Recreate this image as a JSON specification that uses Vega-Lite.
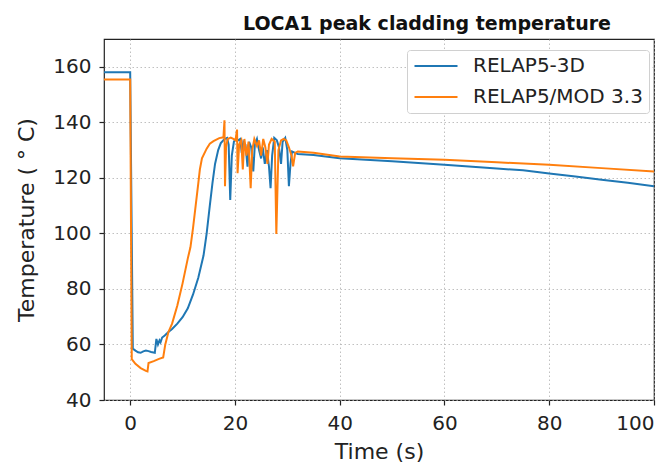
{
  "$schema": "https://vega.github.io/schema/vega-lite/v6.json",
  "width": 550,
  "height": 361,
  "autosize": "none",
  "padding": {"left": 104, "top": 39, "right": 18, "bottom": 65},
  "title": {"text": "LOCA1 peak cladding temperature", "fontSize": 19, "fontWeight": "bold", "font": "DejaVu Sans", "color": "#111", "anchor": "middle", "dx": 48, "offset": 5},
  "config": {
    "view": {"stroke": "#222", "strokeWidth": 1.2},
    "font": "DejaVu Sans",
    "axis": {
      "domain": false,
      "grid": true,
      "gridDash": [1.5, 2.5],
      "gridColor": "#b0b0b0",
      "gridWidth": 0.8,
      "tickColor": "#222",
      "tickSize": 5,
      "tickWidth": 1.2,
      "labelFont": "DejaVu Sans",
      "labelFontSize": 20,
      "labelColor": "#222",
      "titleFont": "DejaVu Sans",
      "titleFontSize": 22,
      "titleFontWeight": "normal",
      "titleColor": "#222"
    }
  },
  "data": {"values": [
    {"s": "RELAP5-3D", "t": -5, "T": 158},
    {"s": "RELAP5-3D", "t": 0, "T": 158},
    {"s": "RELAP5-3D", "t": 0.5, "T": 58.5},
    {"s": "RELAP5-3D", "t": 1, "T": 57.8},
    {"s": "RELAP5-3D", "t": 1.5, "T": 57.2},
    {"s": "RELAP5-3D", "t": 2, "T": 57},
    {"s": "RELAP5-3D", "t": 2.5, "T": 57.5},
    {"s": "RELAP5-3D", "t": 3, "T": 57.8},
    {"s": "RELAP5-3D", "t": 3.5, "T": 57.6},
    {"s": "RELAP5-3D", "t": 4, "T": 57.3},
    {"s": "RELAP5-3D", "t": 4.7, "T": 57},
    {"s": "RELAP5-3D", "t": 5.0, "T": 62},
    {"s": "RELAP5-3D", "t": 5.3, "T": 60},
    {"s": "RELAP5-3D", "t": 5.6, "T": 61.5},
    {"s": "RELAP5-3D", "t": 5.8, "T": 60.8},
    {"s": "RELAP5-3D", "t": 6.1, "T": 62.5},
    {"s": "RELAP5-3D", "t": 6.6, "T": 63.2},
    {"s": "RELAP5-3D", "t": 7.3, "T": 64.5},
    {"s": "RELAP5-3D", "t": 8, "T": 65.6},
    {"s": "RELAP5-3D", "t": 9, "T": 67.5},
    {"s": "RELAP5-3D", "t": 10, "T": 69.8},
    {"s": "RELAP5-3D", "t": 11, "T": 73},
    {"s": "RELAP5-3D", "t": 12, "T": 78},
    {"s": "RELAP5-3D", "t": 13, "T": 84},
    {"s": "RELAP5-3D", "t": 14, "T": 92},
    {"s": "RELAP5-3D", "t": 14.6, "T": 100},
    {"s": "RELAP5-3D", "t": 15.2, "T": 110},
    {"s": "RELAP5-3D", "t": 15.7, "T": 118},
    {"s": "RELAP5-3D", "t": 16.2, "T": 125},
    {"s": "RELAP5-3D", "t": 16.8, "T": 130},
    {"s": "RELAP5-3D", "t": 17.3, "T": 132.5},
    {"s": "RELAP5-3D", "t": 18, "T": 134},
    {"s": "RELAP5-3D", "t": 18.5, "T": 134.4},
    {"s": "RELAP5-3D", "t": 18.8, "T": 132},
    {"s": "RELAP5-3D", "t": 19.1, "T": 112},
    {"s": "RELAP5-3D", "t": 19.4, "T": 128},
    {"s": "RELAP5-3D", "t": 19.8, "T": 133},
    {"s": "RELAP5-3D", "t": 20.2, "T": 134},
    {"s": "RELAP5-3D", "t": 20.6, "T": 133.5},
    {"s": "RELAP5-3D", "t": 21, "T": 134},
    {"s": "RELAP5-3D", "t": 21.3, "T": 129},
    {"s": "RELAP5-3D", "t": 21.6, "T": 133},
    {"s": "RELAP5-3D", "t": 22, "T": 132},
    {"s": "RELAP5-3D", "t": 22.4, "T": 124},
    {"s": "RELAP5-3D", "t": 22.7, "T": 133},
    {"s": "RELAP5-3D", "t": 23.1, "T": 131},
    {"s": "RELAP5-3D", "t": 23.5, "T": 122.3},
    {"s": "RELAP5-3D", "t": 23.8, "T": 132},
    {"s": "RELAP5-3D", "t": 24.2, "T": 134},
    {"s": "RELAP5-3D", "t": 24.6, "T": 130},
    {"s": "RELAP5-3D", "t": 25, "T": 127},
    {"s": "RELAP5-3D", "t": 25.3, "T": 131},
    {"s": "RELAP5-3D", "t": 25.7, "T": 125},
    {"s": "RELAP5-3D", "t": 26.1, "T": 130},
    {"s": "RELAP5-3D", "t": 26.5, "T": 124},
    {"s": "RELAP5-3D", "t": 26.8, "T": 116.3},
    {"s": "RELAP5-3D", "t": 27.1, "T": 128},
    {"s": "RELAP5-3D", "t": 27.5, "T": 134.4},
    {"s": "RELAP5-3D", "t": 28, "T": 133.5},
    {"s": "RELAP5-3D", "t": 28.4, "T": 131},
    {"s": "RELAP5-3D", "t": 28.8, "T": 125},
    {"s": "RELAP5-3D", "t": 29.1, "T": 133},
    {"s": "RELAP5-3D", "t": 29.6, "T": 134.4},
    {"s": "RELAP5-3D", "t": 30, "T": 130},
    {"s": "RELAP5-3D", "t": 30.3, "T": 117},
    {"s": "RELAP5-3D", "t": 30.6, "T": 125},
    {"s": "RELAP5-3D", "t": 30.9, "T": 129.5},
    {"s": "RELAP5-3D", "t": 31.5, "T": 129},
    {"s": "RELAP5-3D", "t": 32, "T": 128.6},
    {"s": "RELAP5-3D", "t": 35, "T": 128.2},
    {"s": "RELAP5-3D", "t": 40, "T": 127.1},
    {"s": "RELAP5-3D", "t": 50, "T": 126},
    {"s": "RELAP5-3D", "t": 60, "T": 124.7},
    {"s": "RELAP5-3D", "t": 70, "T": 123.4},
    {"s": "RELAP5-3D", "t": 75, "T": 122.7},
    {"s": "RELAP5-3D", "t": 80, "T": 121.6},
    {"s": "RELAP5-3D", "t": 85, "T": 120.5},
    {"s": "RELAP5-3D", "t": 90, "T": 119.3},
    {"s": "RELAP5-3D", "t": 95, "T": 118.2},
    {"s": "RELAP5-3D", "t": 100, "T": 117},
    {"s": "RELAP5/MOD 3.3", "t": -5, "T": 155.4},
    {"s": "RELAP5/MOD 3.3", "t": 0, "T": 155.4},
    {"s": "RELAP5/MOD 3.3", "t": 0.3, "T": 54.7},
    {"s": "RELAP5/MOD 3.3", "t": 1, "T": 53},
    {"s": "RELAP5/MOD 3.3", "t": 2, "T": 51.5},
    {"s": "RELAP5/MOD 3.3", "t": 3, "T": 50.5},
    {"s": "RELAP5/MOD 3.3", "t": 3.3, "T": 50.3},
    {"s": "RELAP5/MOD 3.3", "t": 3.5, "T": 53.3},
    {"s": "RELAP5/MOD 3.3", "t": 4.5, "T": 54},
    {"s": "RELAP5/MOD 3.3", "t": 5.5, "T": 54.8},
    {"s": "RELAP5/MOD 3.3", "t": 6.3, "T": 55.3},
    {"s": "RELAP5/MOD 3.3", "t": 6.7, "T": 60},
    {"s": "RELAP5/MOD 3.3", "t": 7.3, "T": 64.5},
    {"s": "RELAP5/MOD 3.3", "t": 8, "T": 67.5},
    {"s": "RELAP5/MOD 3.3", "t": 9, "T": 74},
    {"s": "RELAP5/MOD 3.3", "t": 10, "T": 82},
    {"s": "RELAP5/MOD 3.3", "t": 11, "T": 91},
    {"s": "RELAP5/MOD 3.3", "t": 11.5, "T": 95},
    {"s": "RELAP5/MOD 3.3", "t": 12, "T": 102},
    {"s": "RELAP5/MOD 3.3", "t": 12.5, "T": 110},
    {"s": "RELAP5/MOD 3.3", "t": 13, "T": 118},
    {"s": "RELAP5/MOD 3.3", "t": 13.3, "T": 123},
    {"s": "RELAP5/MOD 3.3", "t": 13.7, "T": 127},
    {"s": "RELAP5/MOD 3.3", "t": 14.6, "T": 130.5},
    {"s": "RELAP5/MOD 3.3", "t": 15.2, "T": 132.3},
    {"s": "RELAP5/MOD 3.3", "t": 15.9, "T": 133.2},
    {"s": "RELAP5/MOD 3.3", "t": 17, "T": 134.3},
    {"s": "RELAP5/MOD 3.3", "t": 17.8, "T": 134.6},
    {"s": "RELAP5/MOD 3.3", "t": 18.0, "T": 140.7},
    {"s": "RELAP5/MOD 3.3", "t": 18.1, "T": 117},
    {"s": "RELAP5/MOD 3.3", "t": 18.3, "T": 131},
    {"s": "RELAP5/MOD 3.3", "t": 18.6, "T": 134},
    {"s": "RELAP5/MOD 3.3", "t": 19.2, "T": 134.5},
    {"s": "RELAP5/MOD 3.3", "t": 19.7, "T": 134},
    {"s": "RELAP5/MOD 3.3", "t": 20.1, "T": 133.5},
    {"s": "RELAP5/MOD 3.3", "t": 20.4, "T": 137.4},
    {"s": "RELAP5/MOD 3.3", "t": 20.5, "T": 121.7},
    {"s": "RELAP5/MOD 3.3", "t": 20.8, "T": 132},
    {"s": "RELAP5/MOD 3.3", "t": 21.2, "T": 133.5},
    {"s": "RELAP5/MOD 3.3", "t": 21.5, "T": 123},
    {"s": "RELAP5/MOD 3.3", "t": 21.8, "T": 134},
    {"s": "RELAP5/MOD 3.3", "t": 22.2, "T": 128},
    {"s": "RELAP5/MOD 3.3", "t": 22.6, "T": 133},
    {"s": "RELAP5/MOD 3.3", "t": 23.0, "T": 116.3},
    {"s": "RELAP5/MOD 3.3", "t": 23.3, "T": 130},
    {"s": "RELAP5/MOD 3.3", "t": 23.7, "T": 134},
    {"s": "RELAP5/MOD 3.3", "t": 24.2, "T": 131.5},
    {"s": "RELAP5/MOD 3.3", "t": 24.6, "T": 133.5},
    {"s": "RELAP5/MOD 3.3", "t": 25, "T": 128},
    {"s": "RELAP5/MOD 3.3", "t": 25.4, "T": 134},
    {"s": "RELAP5/MOD 3.3", "t": 25.8, "T": 131},
    {"s": "RELAP5/MOD 3.3", "t": 26.2, "T": 125},
    {"s": "RELAP5/MOD 3.3", "t": 26.5, "T": 132},
    {"s": "RELAP5/MOD 3.3", "t": 27, "T": 134},
    {"s": "RELAP5/MOD 3.3", "t": 27.6, "T": 133},
    {"s": "RELAP5/MOD 3.3", "t": 27.9, "T": 99.8},
    {"s": "RELAP5/MOD 3.3", "t": 28.3, "T": 130},
    {"s": "RELAP5/MOD 3.3", "t": 28.8, "T": 133.5},
    {"s": "RELAP5/MOD 3.3", "t": 29.3, "T": 134},
    {"s": "RELAP5/MOD 3.3", "t": 29.8, "T": 133.5},
    {"s": "RELAP5/MOD 3.3", "t": 30.3, "T": 131},
    {"s": "RELAP5/MOD 3.3", "t": 30.8, "T": 128},
    {"s": "RELAP5/MOD 3.3", "t": 31.1, "T": 124.1},
    {"s": "RELAP5/MOD 3.3", "t": 31.5, "T": 129},
    {"s": "RELAP5/MOD 3.3", "t": 32, "T": 129.5},
    {"s": "RELAP5/MOD 3.3", "t": 35, "T": 129},
    {"s": "RELAP5/MOD 3.3", "t": 40, "T": 127.7},
    {"s": "RELAP5/MOD 3.3", "t": 50, "T": 127.1},
    {"s": "RELAP5/MOD 3.3", "t": 60, "T": 126.5},
    {"s": "RELAP5/MOD 3.3", "t": 70, "T": 125.6},
    {"s": "RELAP5/MOD 3.3", "t": 80, "T": 124.7},
    {"s": "RELAP5/MOD 3.3", "t": 90, "T": 123.5},
    {"s": "RELAP5/MOD 3.3", "t": 100, "T": 122.3}
  ]},
  "encoding": {
    "x": {"field": "t", "type": "quantitative", "title": "Time (s)",
          "scale": {"domain": [-5, 100], "nice": false, "zero": false},
          "axis": {"values": [0, 20, 40, 60, 80, 100], "labelPadding": 8, "titlePadding": 8}},
    "y": {"field": "T", "type": "quantitative", "title": "Temperature ( ° C)",
          "scale": {"domain": [40, 170], "nice": false, "zero": false},
          "axis": {"values": [40, 60, 80, 100, 120, 140, 160], "labelPadding": 8, "titlePadding": 14}},
    "color": {"field": "s", "type": "nominal",
              "scale": {"domain": ["RELAP5-3D", "RELAP5/MOD 3.3"], "range": ["#1f77b4", "#ff7f0e"]},
              "legend": {"title": null, "orient": "none", "legendX": 303, "legendY": 11,
                         "symbolType": "stroke", "symbolSize": 1849, "symbolStrokeWidth": 2.2,
                         "clipHeight": 20, "labelLimit": 400,
                         "labelFontSize": 20, "labelColor": "#222", "labelOffset": 14,
                         "rowPadding": 11, "padding": 6, "strokeColor": "#d0d0d0",
                         "fillColor": "white", "cornerRadius": 3}}
  },
  "layer": [
    {"transform": [{"filter": "datum.s === 'RELAP5-3D'"}], "mark": {"type": "line", "strokeWidth": 2, "clip": true}},
    {"transform": [{"filter": "datum.s === 'RELAP5/MOD 3.3'"}], "mark": {"type": "line", "strokeWidth": 2, "clip": true}}
  ]
}
